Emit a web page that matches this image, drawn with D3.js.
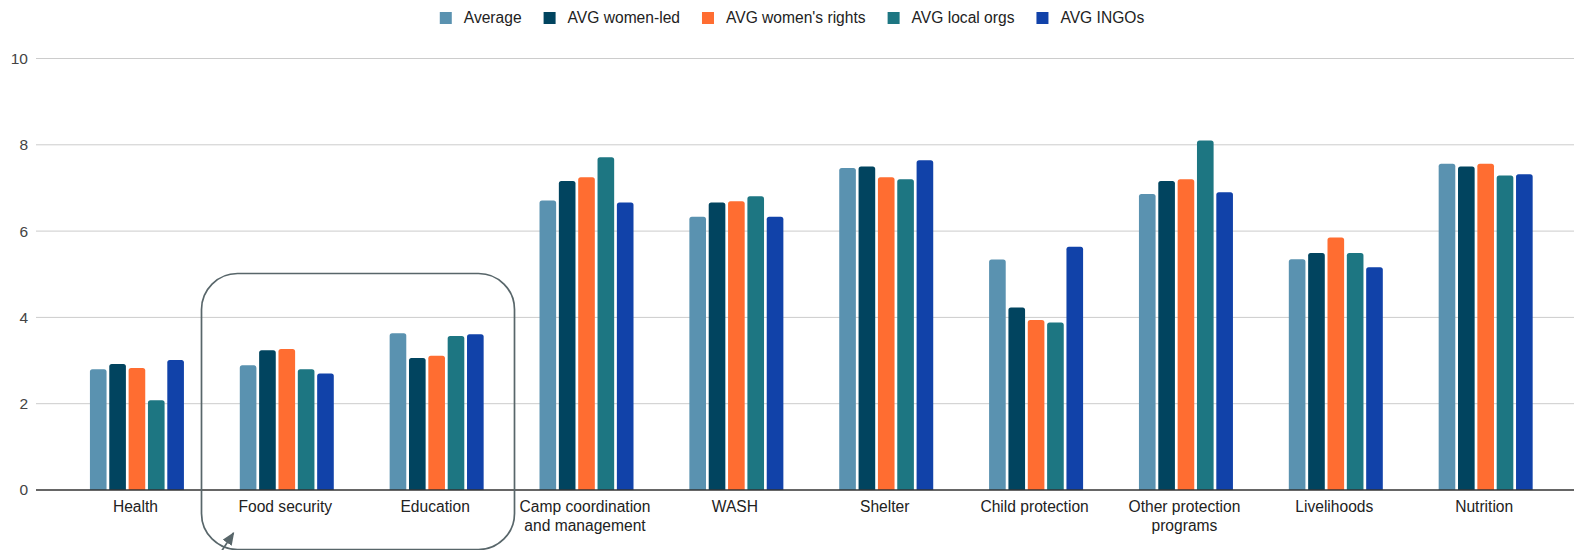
<!DOCTYPE html>
<html>
<head>
<meta charset="utf-8">
<script src="https://cdn.jsdelivr.net/npm/d3@7"></script>
<style>
  html, body { margin: 0; padding: 0; background: #fff; }
  svg { display: block; font-family: "Liberation Sans", Arial, sans-serif; }
</style>
</head>
<body>
<svg id="chart" width="1574" height="550"></svg>
<script>
// Program categories (line breaks mark wrapped axis labels)
const categories = [
  "Health", "Food security", "Education", "Camp coordination\nand management",
  "WASH", "Shelter", "Child protection", "Other protection\nprograms",
  "Livelihoods", "Nutrition"
];

const seriesNames = ["Average", "AVG women-led", "AVG women's rights", "AVG local orgs", "AVG INGOs"];
const seriesColors = ["#5a92b0", "#01445f", "#ff6d31", "#1d7682", "#1142a9"];

const average      = [2.80, 2.89, 3.63, 6.71, 6.33, 7.46, 5.34, 6.86, 5.35, 7.56];
const womenLed     = [2.92, 3.24, 3.06, 7.16, 6.66, 7.50, 4.23, 7.16, 5.49, 7.50];
const womensRights = [2.83, 3.27, 3.11, 7.25, 6.69, 7.25, 3.94, 7.20, 5.85, 7.56];
const localOrgs    = [2.08, 2.80, 3.57, 7.71, 6.81, 7.20, 3.88, 8.10, 5.49, 7.29];
const ingos        = [3.01, 2.70, 3.61, 6.66, 6.33, 7.64, 5.64, 6.90, 5.16, 7.32];

const yTicks = [0, 2, 4, 6, 8, 10];

const seriesValues = [average, womenLed, womensRights, localOrgs, ingos];

const svg = d3.select("#chart");

const x0 = d3.scaleBand().domain(categories).range([62, 1560.6]);
const x1 = d3.scaleBand().domain(seriesNames).range([0, 94]).paddingInner(0.14);
const y = d3.scaleLinear().domain([0, 10]).range([490, 58.5]);

// Gridlines and y-axis labels
const grid = svg.append("g");
grid.selectAll("line").data(yTicks.filter(t => t !== 0)).join("line")
  .attr("x1", 36).attr("x2", 1574)
  .attr("y1", d => y(d)).attr("y2", d => y(d))
  .attr("stroke", "#cccccc").attr("stroke-width", 1);

svg.append("g").selectAll("text").data(yTicks).join("text")
  .attr("x", 28).attr("y", d => y(d))
  .attr("dy", "0.35em")
  .attr("text-anchor", "end")
  .attr("font-size", 15.5).attr("fill", "#444")
  .text(d => d);

// Bars with slightly rounded tops
function barPath(x, yTop, w, yBase, r) {
  const h = yBase - yTop;
  r = Math.min(r, h / 2, w / 2);
  return `M${x},${yBase}V${yTop + r}Q${x},${yTop} ${x + r},${yTop}H${x + w - r}Q${x + w},${yTop} ${x + w},${yTop + r}V${yBase}Z`;
}

const groups = svg.append("g").selectAll("g").data(categories).join("g")
  .attr("transform", d => `translate(${x0(d) + (x0.bandwidth() - 94) / 2},0)`);

groups.selectAll("path")
  .data((c, i) => seriesNames.map((s, k) => ({ s, k, v: seriesValues[k][i] })))
  .join("path")
  .attr("d", d => barPath(x1(d.s), y(d.v), x1.bandwidth(), y(0), 2.5))
  .attr("fill", d => seriesColors[d.k]);

// Baseline
svg.append("line")
  .attr("x1", 36).attr("x2", 1574)
  .attr("y1", y(0)).attr("y2", y(0))
  .attr("stroke", "#333").attr("stroke-width", 1.3);

// Category labels
const catLabels = svg.append("g").selectAll("text").data(categories).join("text")
  .attr("x", d => x0(d) + x0.bandwidth() / 2 - 1.5)
  .attr("y", 512)
  .attr("text-anchor", "middle")
  .attr("font-size", 15.6).attr("fill", "#222");
catLabels.selectAll("tspan").data(d => d.split("\n")).join("tspan")
  .attr("x", function () { return this.parentNode.getAttribute("x"); })
  .attr("dy", (d, i) => i === 0 ? 0 : 18.5)
  .text(d => d);

// Legend
const legend = svg.append("g");
const items = legend.selectAll("g").data(seriesNames).join("g");
items.append("rect").attr("width", 12).attr("height", 12).attr("y", 12)
  .attr("fill", (d, i) => seriesColors[i]);
items.append("text").attr("x", 24).attr("y", 18).attr("dy", "0.35em")
  .attr("font-size", 15.6).attr("fill", "#222").text(d => d);
let offset = 0;
const widths = [];
items.each(function () {
  const w = 24 + this.querySelector("text").getComputedTextLength();
  widths.push(w);
});
const totalW = d3.sum(widths) + 22 * (widths.length - 1);
offset = 792 - totalW / 2;
items.attr("transform", (d, i) => {
  const t = `translate(${offset},0)`;
  offset += widths[i] + 22;
  return t;
});

// Highlight box around food security and education
const annot = "#58666a";
svg.append("rect")
  .attr("x", 201.5).attr("y", 273.5).attr("width", 313).attr("height", 276)
  .attr("rx", 36).attr("ry", 36)
  .attr("fill", "none").attr("stroke", annot).attr("stroke-width", 1.7);

svg.append("defs").append("marker")
  .attr("id", "arrowHead").attr("viewBox", "0 0 10 10")
  .attr("refX", 9).attr("refY", 5)
  .attr("markerWidth", 13).attr("markerHeight", 11)
  .attr("markerUnits", "userSpaceOnUse")
  .attr("orient", "auto")
  .attr("preserveAspectRatio", "none")
  .append("path").attr("d", "M0,0L10,5L0,10Z").attr("fill", annot);
svg.append("line")
  .attr("x1", 221).attr("y1", 552).attr("x2", 233.5).attr("y2", 533)
  .attr("stroke", annot).attr("stroke-width", 1.7)
  .attr("marker-end", "url(#arrowHead)");
</script>
</body>
</html>
